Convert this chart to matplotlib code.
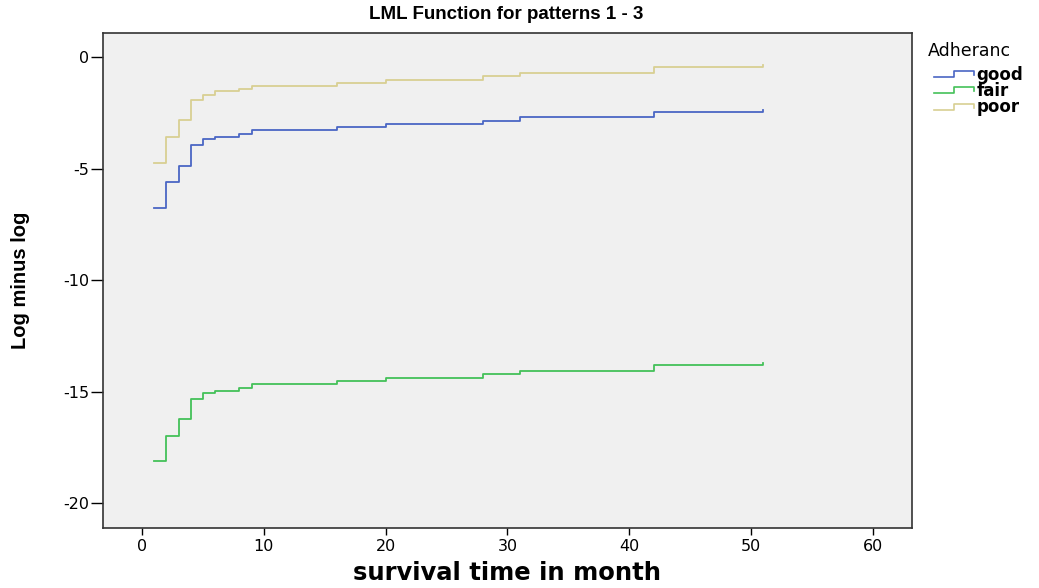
import matplotlib
matplotlib.use("Agg")
import matplotlib.pyplot as plt
from matplotlib.lines import Line2D
from matplotlib.legend_handler import HandlerBase

plt.rcParams['font.family'] = ['DejaVu Sans']
plt.rcParams['axes.unicode_minus'] = False

# event times (months) and LML values per adherence group
times = [1, 2, 3, 4, 5, 6, 8, 9, 16, 20, 28, 31, 42, 51]
good = [-6.74, -5.59, -4.87, -3.92, -3.68, -3.56, -3.44, -3.27, -3.15, -3.02, -2.86, -2.69, -2.47, -2.35]
fair = [-18.10, -16.98, -16.23, -15.31, -15.07, -14.95, -14.81, -14.66, -14.53, -14.38, -14.22, -14.07, -13.81, -13.72]
poor = [-4.74, -3.59, -2.84, -1.93, -1.69, -1.54, -1.42, -1.29, -1.14, -1.03, -0.85, -0.70, -0.46, -0.36]

groups = ["good", "fair", "poor"]
colors = {"good": "#4a66c4", "fair": "#44c159", "poor": "#d8cf92"}
series = {"good": good, "fair": fair, "poor": poor}

xticks = [0, 10, 20, 30, 40, 50, 60]
yticks = [0, -5, -10, -15, -20]


class StepHandler(HandlerBase):
    """Legend handle drawn as a small step, like the SPSS legend."""
    def create_artists(self, legend, orig_handle, xdescent, ydescent,
                       width, height, fontsize, trans):
        x0 = -xdescent + 0.14 * width
        w = 0.86 * width
        y0 = -ydescent
        xs = [x0, x0 + 0.5 * w, x0 + 0.5 * w, x0 + w, x0 + w]
        ys = [y0 + 0.25 * height, y0 + 0.25 * height, y0 + 0.75 * height,
              y0 + 0.75 * height, y0 + 0.4 * height]
        ln = Line2D(xs, ys, color=orig_handle.get_color(), lw=1.2)
        ln.set_transform(trans)
        return [ln]


fig = plt.figure(figsize=(10.39, 5.88), dpi=100)
ax = fig.add_axes([0.0991, 0.102, 0.7787, 0.8419])
ax.set_facecolor("#f0f0f0")

handles = []
for g in groups:
    h, = ax.step(times, series[g], where="post", color=colors[g], lw=1.3, label=g)
    handles.append(h)

ax.set_xlim(-3.2, 63.2)
ax.set_ylim(-21.1, 1.08)
ax.set_xticks(xticks)
ax.set_yticks(yticks)
ax.tick_params(direction="out", width=1, labelsize=11.5, colors="black")
ax.tick_params(axis="y", length=9, pad=1)
ax.tick_params(axis="x", length=5, pad=3)
for s in ax.spines.values():
    s.set_color("#333333")
    s.set_linewidth(1.2)

ax.set_xlabel("survival time in month", fontsize=17.5, fontweight="bold", labelpad=5)
ax.set_ylabel("Log minus log", fontsize=14.5, fontweight="bold", labelpad=24,
              family=["Liberation Sans", "DejaVu Sans"])
fig.text(0.487, 0.976, "LML Function for patterns 1 - 3", ha="center", va="center",
         fontsize=13.5, fontweight="bold", family=["Liberation Sans", "DejaVu Sans"])

leg = fig.legend(handles=handles, labels=groups, title="Adheranc",
                 loc="upper left", bbox_to_anchor=(0.882, 0.948),
                 frameon=False, prop={"size": 12, "weight": "bold"},
                 title_fontsize=12.5,
                 handler_map={Line2D: StepHandler()}, handlelength=2.75,
                 handletextpad=0.15, labelspacing=-0.1, borderpad=0.2)
leg._legend_box.align = "left"
leg._legend_box.sep = 4

fig.savefig("out.png", dpi=100, facecolor="white")
